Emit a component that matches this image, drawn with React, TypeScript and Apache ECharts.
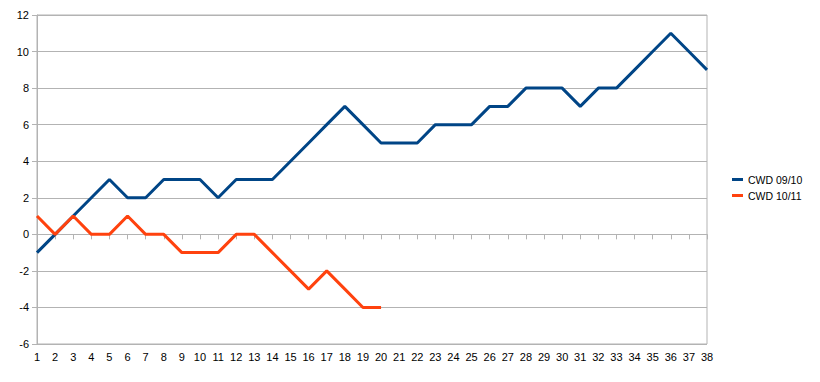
import React, { useEffect, useRef } from "react";
import * as echarts from "echarts";

const categories = Array.from({ length: 38 }, (_, i) => String(i + 1));
const cwd0910 = [-1, 0, 1, 2, 3, 2, 2, 3, 3, 3, 2, 3, 3, 3, 4, 5, 6, 7, 6, 5, 5, 5, 6, 6, 6, 7, 7, 8, 8, 8, 7, 8, 8, 9, 10, 11, 10, 9];
const cwd1011 = [1, 0, 1, 0, 0, 1, 0, 0, -1, -1, -1, 0, 0, -1, -2, -3, -2, -3, -4, -4];
const seriesNames = ["CWD 09/10", "CWD 10/11"];

export default function App() {
  const ref = useRef<HTMLDivElement>(null);
  useEffect(() => {
    document.body.style.margin = "0";
    const chart = echarts.init(ref.current!, null, { renderer: "svg" });
    const font = "'Liberation Sans', Arial, sans-serif";
    chart.setOption({
      animation: false,
      backgroundColor: "#ffffff",
      grid: {
        left: 37,
        right: 113,
        top: 15,
        bottom: 38,
        show: true,
        borderColor: "#b3b3b3",
        borderWidth: 1,
      },
      legend: {
        orient: "vertical",
        left: 732,
        top: 174,
        padding: 0,
        itemGap: 5,
        itemWidth: 11,
        itemHeight: 3,
        icon: "rect",
        textStyle: { fontFamily: font, fontSize: 10.5, color: "#000" },
        data: seriesNames,
      },
      xAxis: {
        type: "category",
        data: categories,
        boundaryGap: false,
        axisLine: { lineStyle: { color: "#b3b3b3" } },
        axisTick: { length: 5, lineStyle: { color: "#b3b3b3" }, alignWithLabel: true },
        axisLabel: { fontFamily: font, fontSize: 11, color: "#000", margin: 7, interval: 0 },
        splitLine: { show: false },
      },
      yAxis: {
        type: "value",
        min: -6,
        max: 12,
        interval: 2,
        axisLine: { show: true, lineStyle: { color: "#b3b3b3" } },
        axisTick: { show: true, length: 5, lineStyle: { color: "#b3b3b3" } },
        axisLabel: { fontFamily: font, fontSize: 11, color: "#000", margin: 8 },
        splitLine: { show: true, lineStyle: { color: "#b3b3b3" } },
      },
      series: [
        {
          name: seriesNames[0],
          type: "line",
          data: cwd0910,
          showSymbol: false,
          symbol: "none",
          color: "#004586",
          lineStyle: { width: 3, color: "#004586" },
        },
        {
          name: seriesNames[1],
          type: "line",
          data: cwd1011,
          showSymbol: false,
          symbol: "none",
          color: "#ff420e",
          lineStyle: { width: 3, color: "#ff420e" },
        },
      ],
    });
    return () => chart.dispose();
  }, []);
  return <div ref={ref} style={{ width: 820, height: 382 }} />;
}
